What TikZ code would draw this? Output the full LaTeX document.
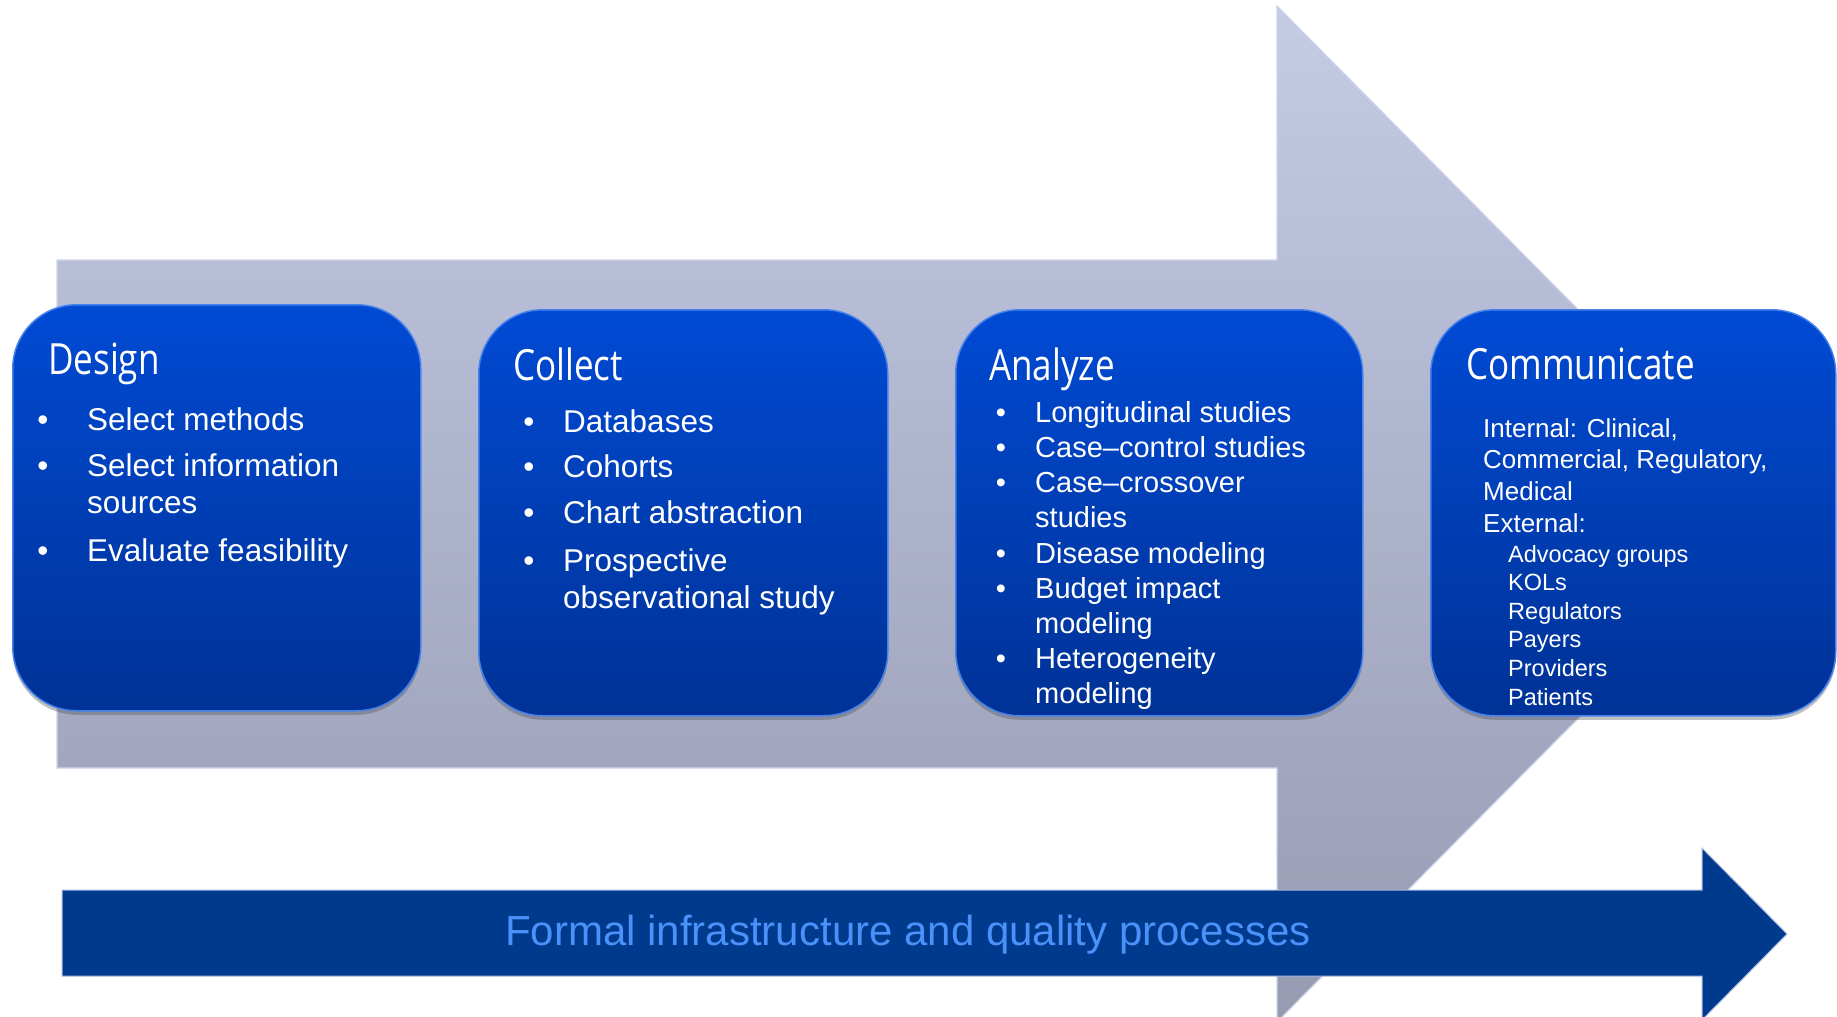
\documentclass[tikz,border=0pt]{standalone}
\usepackage{fontspec}
\setmainfont{Liberation Sans}
\newfontfamily\titlefont[FakeStretch=0.815]{Open Sans}
\usetikzlibrary{shadows}
\definecolor{arrowtop}{RGB}{197,202,229}
\definecolor{arrowbot}{RGB}{150,155,178}
\definecolor{arrowedge}{RGB}{208,212,235}
\definecolor{boxtop}{RGB}{0,74,212}
\definecolor{boxbot}{RGB}{0,50,150}
\definecolor{boxedge}{RGB}{70,130,235}
\definecolor{bandblue}{RGB}{0,58,140}
\definecolor{bandedge}{RGB}{170,185,225}
\definecolor{bandtext}{RGB}{75,145,250}
\newcommand{\mlines}[1]{\begin{tabular}[t]{@{}l@{}}#1\end{tabular}}
\begin{document}
\begin{tikzpicture}[x=1pt,y=-1pt,
  bigarrow/.style={top color=arrowtop, bottom color=arrowbot, draw=arrowedge, line width=1.2pt},
  bandarrow/.style={fill=bandblue, draw=bandedge, line width=1pt},
  stagebox/.style={rectangle, rounded corners=64pt, top color=boxtop, bottom color=boxbot,
    draw=boxedge, line width=1.5pt, anchor=north west, inner sep=0pt,
    drop shadow={shadow xshift=0pt, shadow yshift=-4pt, opacity=0.35, fill=black!70}},
  stagetitle/.style={anchor=base west, inner sep=0pt, text=white,
    font=\titlefont\fontsize{43}{50}\selectfont},
  itemA/.style={anchor=base west, inner sep=0pt, text=white,
    font=\fontsize{31.5}{37}\selectfont},
  bulA/.style={anchor=base, inner sep=0pt, text=white, font=\fontsize{31.5}{37}\selectfont},
  itemB/.style={anchor=base west, inner sep=0pt, text=white,
    font=\fontsize{29}{35}\selectfont},
  bulB/.style={anchor=base, inner sep=0pt, text=white, font=\fontsize{29}{35}\selectfont},
  itemC/.style={anchor=base west, inner sep=0pt, text=white,
    font=\fontsize{26}{31.7}\selectfont},
  itemD/.style={anchor=base west, inner sep=0pt, text=white,
    font=\fontsize{23.5}{28.6}\selectfont},
  bandlabel/.style={anchor=base, inner sep=0pt, text=bandtext,
    font=\fontsize{42}{48}\selectfont}
]
\useasboundingbox (0,0) rectangle (1837,1017);
\clip (0,0) rectangle (1837,1017);
\fill[white] (0,0) rectangle (1837,1017);

% large background arrow
\path[bigarrow] (57,260) -- (1277,260) -- (1277,6) -- (1781,514) -- (1277,1022)
  -- (1277,768) -- (57,768) -- cycle;

% stage boxes
\node[stagebox, minimum width=408pt, minimum height=406pt] (design) at (12,304) {};
\node[stagebox, minimum width=409pt, minimum height=406pt] (collect) at (478,309) {};
\node[stagebox, minimum width=407pt, minimum height=406pt] (analyze) at (955,309) {};
\node[stagebox, minimum width=405pt, minimum height=406pt] (communicate) at (1430,309) {};

% Design
\node[stagetitle] (design-title) at (48,374) {Design};
\node[bulA] (d-b1) at (43,430) {•};
\node[itemA] (d-i1) at (87,430) {Select methods};
\node[bulA] (d-b2) at (43,476) {•};
\node[itemA] (d-i2) at (87,476) {\mlines{Select information\\sources}};
\node[bulA] (d-b3) at (43,561) {•};
\node[itemA] (d-i3) at (87,561) {Evaluate feasibility};

% Collect
\node[stagetitle] (collect-title) at (513,380) {Collect};
\node[bulA] (c-b1) at (529,432) {•};
\node[itemA] (c-i1) at (563,432) {Databases};
\node[bulA] (c-b2) at (529,477) {•};
\node[itemA] (c-i2) at (563,477) {Cohorts};
\node[bulA] (c-b3) at (529,523) {•};
\node[itemA] (c-i3) at (563,523) {Chart abstraction};
\node[bulA] (c-b4) at (529,571) {•};
\node[itemA] (c-i4) at (563,571) {\mlines{Prospective\\observational study}};

% Analyze
\node[stagetitle] (analyze-title) at (989,380) {Analyze};
\node[bulB] (a-b1) at (1001,422) {•};
\node[itemB] (a-i1) at (1035,422) {Longitudinal studies};
\node[bulB] (a-b2) at (1001,457) {•};
\node[itemB] (a-i2) at (1035,457) {Case–control studies};
\node[bulB] (a-b3) at (1001,492) {•};
\node[itemB] (a-i3) at (1035,492) {\mlines{Case–crossover\\studies}};
\node[bulB] (a-b4) at (1001,563) {•};
\node[itemB] (a-i4) at (1035,563) {Disease modeling};
\node[bulB] (a-b5) at (1001,598) {•};
\node[itemB] (a-i5) at (1035,598) {\mlines{Budget impact\\modeling}};
\node[bulB] (a-b6) at (1001,668) {•};
\node[itemB] (a-i6) at (1035,668) {\mlines{Heterogeneity\\modeling}};

% Communicate
\node[stagetitle] (communicate-title) at (1466,379) {Communicate};
\node[itemC] (m-int) at (1483,437) {\mlines{Internal: Clinical,\\Commercial, Regulatory,\\Medical\\External:}};
\node[itemD] (m-ext) at (1508,562) {\mlines{Advocacy groups\\KOLs\\Regulators\\Payers\\Providers\\Patients}};

% bottom band arrow
\path[bandarrow] (62,890) -- (1702,890) -- (1702,848) -- (1787,934) -- (1702,1020)
  -- (1702,976) -- (62,976) -- cycle;
\node[bandlabel] (band) at (908,945) {Formal infrastructure and quality processes};
\end{tikzpicture}
\end{document}
